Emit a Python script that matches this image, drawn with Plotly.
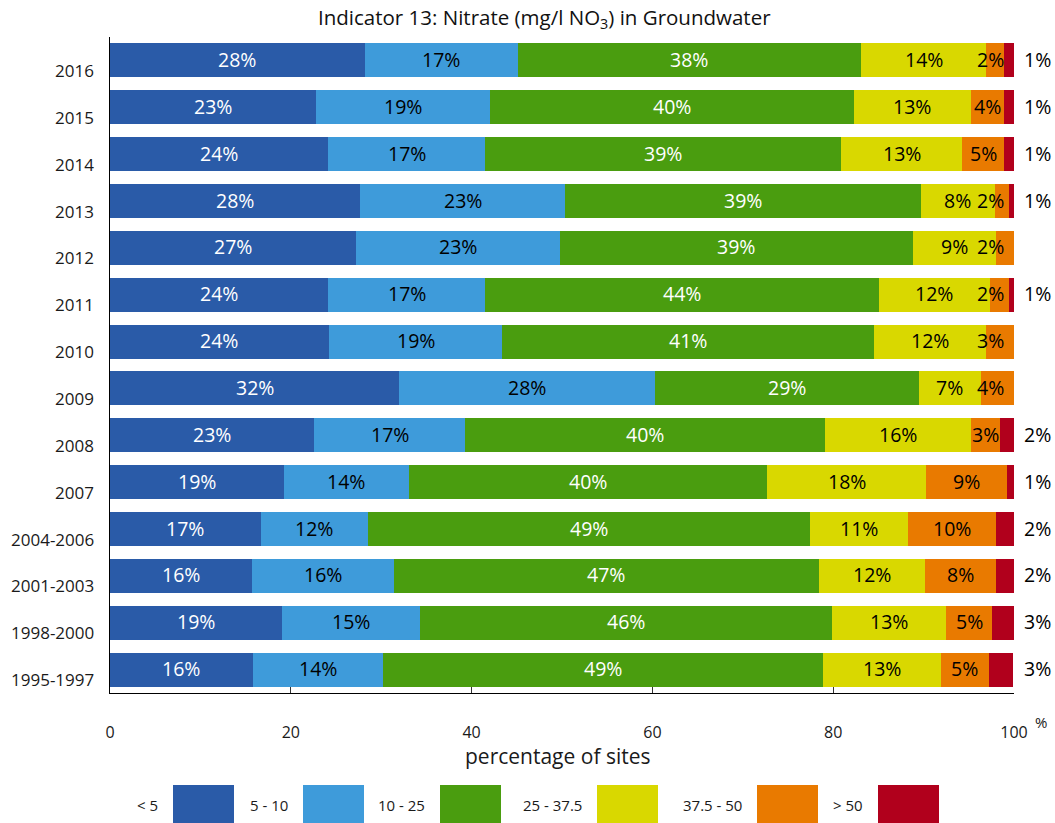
import plotly.graph_objects as go

periods = ["1995-1997", "1998-2000", "2001-2003", "2004-2006", "2007", "2008", "2009",
           "2010", "2011", "2012", "2013", "2014", "2015", "2016"]
classes = ["< 5", "5 - 10", "10 - 25", "25 - 37.5", "37.5 - 50", "> 50"]
colors = ["#2A5BA8", "#3E9BDA", "#4A9D0F", "#D9D800", "#E97A00", "#B1001C"]
label_colors = ["white", "black", "white", "black", "black", "black"]

lt5 = [15.8, 19.0, 15.7, 16.7, 19.2, 22.6, 32.0, 24.2, 24.1, 27.2, 27.7, 24.1, 22.8, 28.2]
c5_10 = [14.4, 15.3, 15.7, 11.8, 13.9, 16.7, 28.3, 19.2, 17.4, 22.6, 22.6, 17.4, 19.2, 16.9]
c10_25 = [48.7, 45.6, 47.0, 48.9, 39.6, 39.8, 29.2, 41.1, 43.6, 39.0, 39.4, 39.4, 40.3, 38.0]
c25_375 = [13.0, 12.6, 11.8, 10.9, 17.6, 16.1, 6.8, 12.4, 12.2, 9.2, 8.2, 13.4, 12.9, 13.8]
c375_50 = [5.3, 5.1, 7.8, 9.7, 8.9, 3.3, 3.7, 3.1, 2.1, 2.1, 1.6, 4.6, 3.7, 2.0]
gt50 = [2.7, 2.6, 2.0, 2.0, 1.0, 1.6, 0.0, 0.0, 0.6, 0.0, 0.6, 1.1, 1.1, 1.1]
series = [lt5, c5_10, c10_25, c25_375, c375_50, gt50]

x_ticks = [0, 20, 40, 60, 80, 100]

# plot area in pixels
L, R, T, B = 110, 1014, 37, 693
W, H = R - L, B - T


def px(xp):
    return (xp - L) / W


def py(yp):
    return (B - yp) / H


FONT = "Open Sans"
fig = go.Figure()
for name, vals, col in zip(classes, series, colors):
    fig.add_trace(go.Bar(y=periods, x=vals, name=name, orientation="h",
                         marker=dict(color=col, line=dict(width=0)),
                         showlegend=False, hoverinfo="x+y+name"))

annotations = []
for i, p in enumerate(periods):
    start = 0.0
    for k, vals in enumerate(series):
        v = vals[i]
        if v <= 0:
            start += v
            continue
        xc = start + v / 2
        xref = "x"
        if k == 4:
            xc = min(xc, 97.4)
        if k == 5:
            xc = px(1037)
            xref = "paper"
        annotations.append(dict(x=xc, y=i, xref=xref, yref="y", text=f"{round(v)}%",
                                showarrow=False, xanchor="center", yshift=1,
                                font=dict(size=19.5, color=label_colors[k], family=FONT)))
        start += v
    # category labels (offset downward as in reference)
    annotations.append(dict(x=px(96), y=i, xref="paper", yref="y", text=p, showarrow=False,
                            xanchor="right", yshift=-10,
                            font=dict(size=17, color="#1a1a1a", family=FONT)))

# title
annotations.append(dict(x=px(544), y=py(18), xref="paper", yref="paper",
                        text="Indicator 13: Nitrate (mg/l NO<sub>3</sub>) in Groundwater",
                        showarrow=False, xanchor="center", yanchor="middle",
                        font=dict(size=20.5, color="#111", family=FONT)))
# percent sign next to axis end
annotations.append(dict(x=px(1041), y=py(722), xref="paper", yref="paper", text="%",
                        showarrow=False, xanchor="center", yanchor="middle",
                        font=dict(size=15, color="#1a1a1a", family=FONT)))
# axis title
annotations.append(dict(x=px(558), y=py(756), xref="paper", yref="paper", text="percentage of sites",
                        showarrow=False, xanchor="center", yanchor="middle",
                        font=dict(size=21, color="#1a1a1a", family=FONT)))

# custom legend
shapes = []
box_left = [173, 303, 440, 597, 757, 878]
for name, col, bl in zip(classes, colors, box_left):
    shapes.append(dict(type="rect", xref="paper", yref="paper",
                       x0=px(bl), x1=px(bl + 61), y0=py(785), y1=py(823),
                       fillcolor=col, line=dict(width=0)))
    annotations.append(dict(x=px(bl - 13), y=py(805), xref="paper", yref="paper", text=name,
                            showarrow=False, xanchor="right", yanchor="middle",
                            font=dict(size=15, color="#1a1a1a", family=FONT)))

fig.update_layout(
    barmode="stack",
    bargap=0.274,
    width=1055, height=823,
    margin=dict(l=L, r=1055 - R, t=T, b=823 - B, autoexpand=False),
    paper_bgcolor="white", plot_bgcolor="white",
    font=dict(family=FONT, color="#1a1a1a"),
    xaxis=dict(range=[0, 100], tickvals=x_ticks, ticks="inside", ticklen=6, tickcolor="#333",
               showline=True, linecolor="black", linewidth=1, showgrid=False, zeroline=False,
               tickfont=dict(size=16, color="#1a1a1a"), ticklabelstandoff=25, fixedrange=True),
    yaxis=dict(type="category", categoryorder="array", categoryarray=periods, range=[-0.5, 13.5],
               showticklabels=False, ticks="", showline=True, linecolor="black", linewidth=1,
               showgrid=False, zeroline=False, fixedrange=True),
    annotations=annotations,
    shapes=shapes,
    showlegend=False,
)

fig.write_html("out.html", config={"displayModeBar": False},
               post_script="document.body.style.margin='0';")
